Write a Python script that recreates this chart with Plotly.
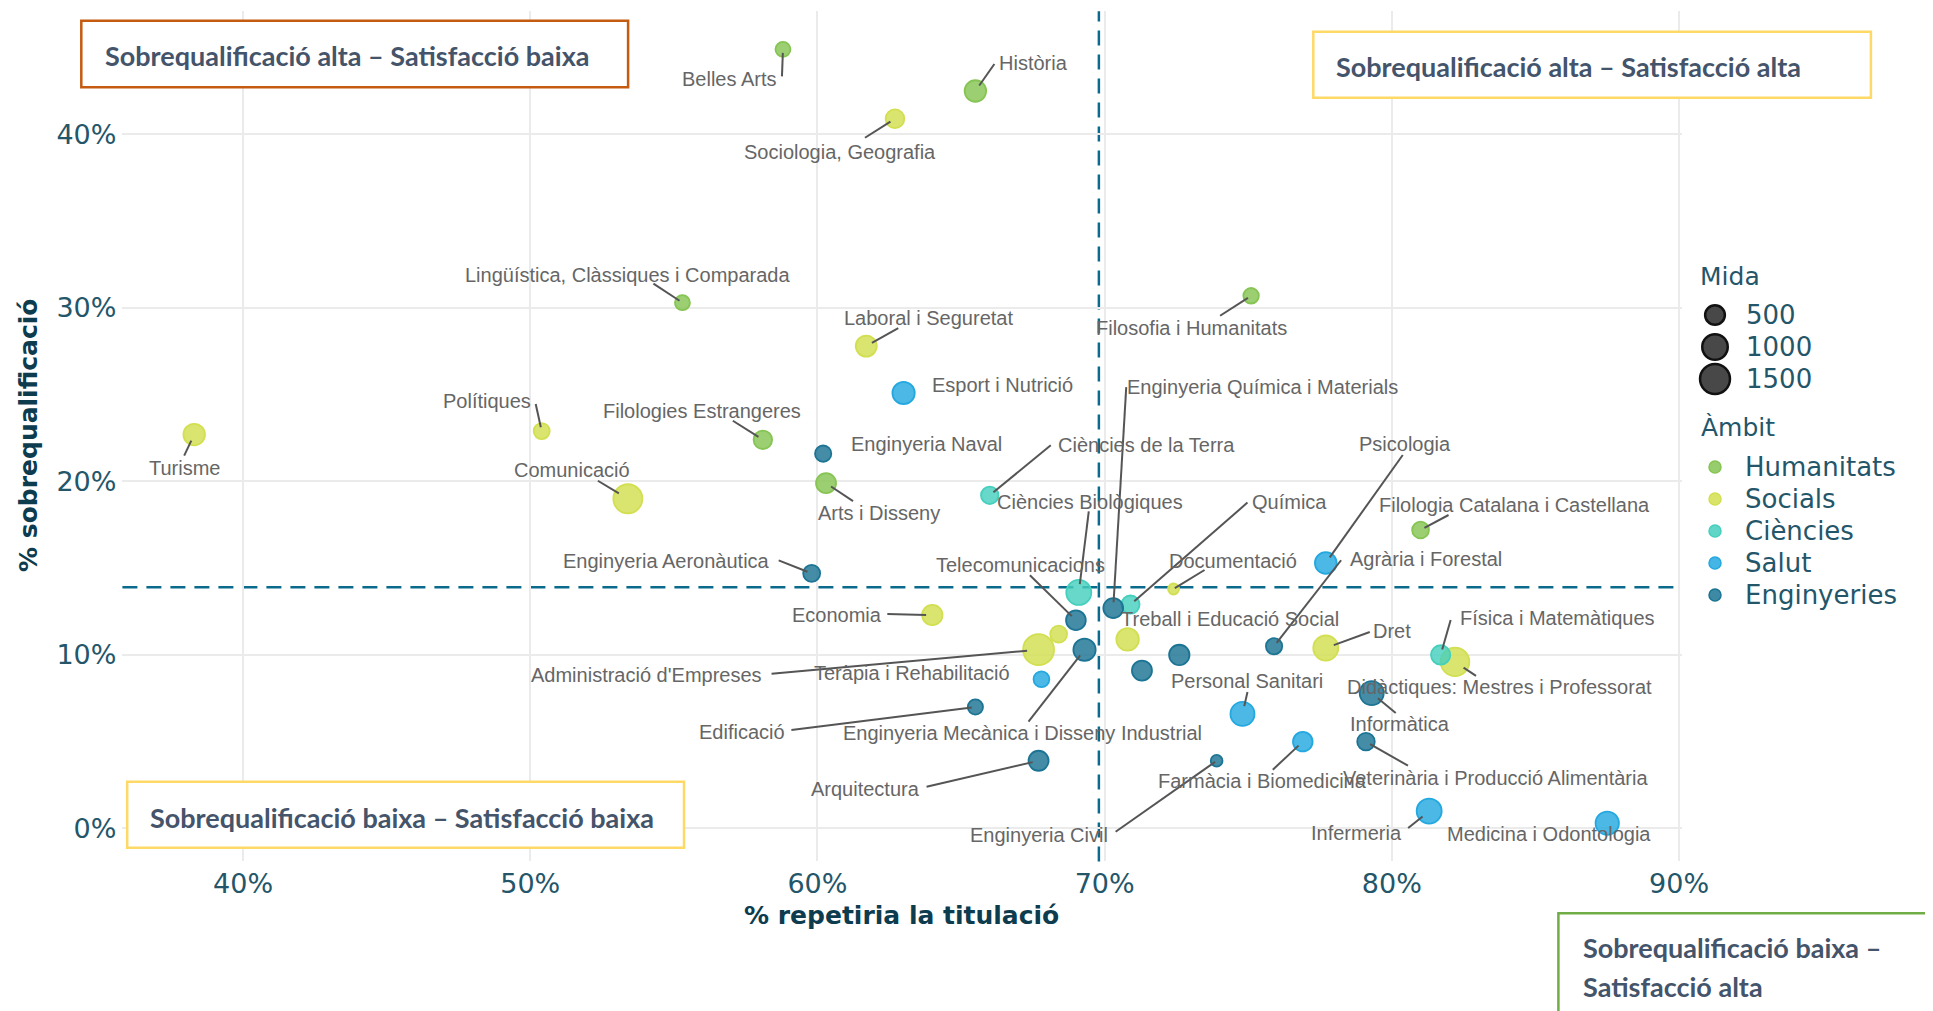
import numpy as np
import plotly.graph_objects as go

W, H = 1933, 1011
OFF = 8  # the page body margin shifts the figure by this many px

# ---- data ----
titulacio = [
    "Belles Arts", "Història", "Sociologia, Geografia", "Lingüística, Clàssiques i Comparada",
    "Filosofia i Humanitats", "Laboral i Seguretat", "Esport i Nutrició", "Filologies Estrangeres",
    "Enginyeria Naval", "Arts i Disseny", "Ciències de la Terra", "Enginyeria Aeronàutica",
    "Economia", "Ciències Biològiques", "Telecomunicacions", "Enginyeria Química i Materials",
    "Química", "Documentació", "Treball i Educació Social", "Psicologia", "Agrària i Forestal",
    "Dret", "Física i Matemàtiques", "Didàctiques: Mestres i Professorat", "Informàtica",
    "Veterinària i Producció Alimentària", "Farmàcia i Biomedicina", "Enginyeria Civil",
    "Personal Sanitari", "Infermeria", "Medicina i Odontologia", "Teràpia i Rehabilitació",
    "Administració d'Empreses", "Enginyeria Mecànica i Disseny Industrial", "Edificació",
    "Arquitectura", "Turisme", "Polítiques", "Comunicació", "Filologia Catalana i Castellana",
    "", "", "",
]
ambit = [
    "Humanitats", "Humanitats", "Socials", "Humanitats",
    "Humanitats", "Socials", "Salut", "Humanitats",
    "Enginyeries", "Humanitats", "Ciències", "Enginyeries",
    "Socials", "Ciències", "Enginyeries", "Enginyeries",
    "Ciències", "Socials", "Socials", "Salut", "Enginyeries",
    "Socials", "Ciències", "Socials", "Enginyeries",
    "Enginyeries", "Salut", "Enginyeries",
    "Salut", "Salut", "Salut", "Salut",
    "Socials", "Enginyeries", "Enginyeries",
    "Enginyeries", "Socials", "Socials", "Socials", "Humanitats",
    "Enginyeries", "Enginyeries", "Socials",
]
repetiria = [
    58.8, 65.5, 62.7, 55.3,
    75.1, 61.7, 63.0, 58.1,
    60.2, 60.3, 66.0, 59.8,
    64.0, 69.1, 69.0, 70.3,
    70.9, 72.4, 70.8, 77.7, 75.9,
    77.7, 81.7, 82.2, 79.3,
    79.1, 76.9, 73.9,
    74.8, 81.3, 87.5, 67.8,
    67.7, 69.3, 65.5,
    67.7, 38.3, 50.4, 53.4, 81.0,
    72.6, 71.3, 68.4,
]
sobrequalificacio = [
    44.9, 42.5, 40.9, 30.3,
    30.7, 27.8, 25.1, 22.4,
    21.6, 19.9, 19.2, 14.7,
    12.3, 13.6, 12.0, 12.7,
    12.9, 13.8, 10.9, 15.3, 10.5,
    10.4, 10.0, 9.6, 7.8,
    5.0, 5.0, 3.9,
    6.6, 1.0, 0.3, 8.6,
    10.3, 10.3, 7.0,
    3.9, 22.7, 22.9, 19.0, 17.2,
    10.0, 9.1, 11.2,
]
mida = [
    220, 635, 430, 220,
    245, 595, 700, 415,
    285, 520, 355, 325,
    550, 950, 500, 505,
    395, 75, 720, 650, 285,
    950, 470, 1340, 855,
    355, 490, 95,
    855, 950, 790, 260,
    1635, 700, 230,
    520, 635, 270, 1385, 315,
    545, 520, 315,
]

ambits = ["Humanitats", "Socials", "Ciències", "Salut", "Enginyeries"]
mida_llegenda = [500, 1000, 1500]
mitjana_repetiria = 69.8
mitjana_sobreq = 13.9
x_ticks = [40, 50, 60, 70, 80, 90]
y_ticks = [0, 10, 20, 30, 40]

quadrants = [
    "Sobrequalificació alta – Satisfacció baixa",
    "Sobrequalificació alta – Satisfacció alta",
    "Sobrequalificació baixa – Satisfacció baixa",
    "Sobrequalificació baixa –",
    "Satisfacció alta",
]

# ---- style ----
colors = {
    "Humanitats": "#86c453",
    "Socials": "#d2df50",
    "Ciències": "#45cfbd",
    "Salut": "#24a8e0",
    "Enginyeries": "#1c7494",
}
TEAL = "#24566a"
TITLE = "#0d3c4f"
LABEL_FONT = "Liberation Sans, Arial, sans-serif"
AXIS_FONT = "DejaVu Sans, sans-serif"
BOX_FONT = "Lato, Open Sans, sans-serif"

# label placement: text centre offset and segment start offset (px, y down) from the point
etiquetes = {
    "Belles Arts": (-54, 30, -1, 27),
    "Història": (58, -28, 19, -27),
    "Sociologia, Geografia": (-55, 33, -30, 19),
    "Lingüística, Clàssiques i Comparada": (-55, -28, -29, -19),
    "Filosofia i Humanitats": (-60, 32, -31, 20),
    "Laboral i Seguretat": (62, -28, 32, -18),
    "Esport i Nutrició": (99, -8),
    "Filologies Estrangeres": (-61, -29, -30, -19),
    "Enginyeria Naval": (103, -10),
    "Arts i Disseny": (53, 30, 27, 18),
    "Ciències de la Terra": (157, -50, 61, -50),
    "Enginyeria Aeronàutica": (-145, -12, -33, -13),
    "Economia": (-95, 0, -45, -1),
    "Ciències Biològiques": (11, -90, 10, -81),
    "Telecomunicacions": (-55, -55, -46, -45),
    "Enginyeria Química i Materials": (149, -221, 13, -221),
    "Química": (159, -103, 117, -102),
    "Documentació": (59, -28, 31, -19),
    "Treball i Educació Social": (102, -20),
    "Psicologia": (79, -119, 77, -108),
    "Agrària i Forestal": (152, -87, 67, -86),
    "Dret": (66, -17, 44, -16),
    "Física i Matemàtiques": (117, -37, 10, -35),
    "Didàctiques: Mestres i Professorat": (44, 25, 21, 14),
    "Informàtica": (28, 31, 24, 20),
    "Veterinària i Producció Alimentària": (130, 36, 42, 24),
    "Farmàcia i Biomedicina": (-40, 39, -30, 28),
    "Enginyeria Civil": (-178, 74, -101, 71),
    "Personal Sanitari": (5, -33, 5, -22),
    "Infermeria": (-73, 22, -21, 17),
    "Medicina i Odontologia": (-58, 11),
    "Teràpia i Rehabilitació": (-129, -6),
    "Administració d'Empreses": (-392, 25, -267, 24),
    "Enginyeria Mecànica i Disseny Industrial": (-62, 83, -56, 72),
    "Edificació": (-233, 25, -184, 23),
    "Arquitectura": (-173, 28, -112, 26),
    "Turisme": (-10, 33, -10, 21),
    "Polítiques": (-55, -30, -6, -27),
    "Comunicació": (-56, -29, -30, -18),
    "Filologia Catalana i Castellana": (94, -25, 28, -15),
}


def diam(n):
    # point diameter in px from the size variable
    return 6 + 0.62 * np.sqrt(np.maximum(np.asarray(n, dtype=float) - 10, 0))


def rgba(hexc, a):
    h = hexc.lstrip("#")
    return f"rgba({int(h[0:2], 16)},{int(h[2:4], 16)},{int(h[4:6], 16)},{a})"


def px(xp, yp):
    # screen px -> paper fraction
    return (xp - OFF) / W, 1 - (yp - OFF) / H


# plot area in screen px
X0, X1 = 122.4, 1681.9
Y0, Y1 = 11.2, 861.4

fig = go.Figure()

for a in ambits:
    idx = [i for i, v in enumerate(ambit) if v == a]
    fig.add_trace(go.Scatter(
        x=[repetiria[i] for i in idx],
        y=[sobrequalificacio[i] for i in idx],
        text=[titulacio[i] for i in idx],
        mode="markers",
        marker=dict(size=diam([mida[i] for i in idx]), color=rgba(colors[a], 0.82), opacity=1,
                    line=dict(color=colors[a], width=1.8)),
        hovertemplate="%{text}<br>%{x:.1f}% / %{y:.1f}%<extra></extra>",
        showlegend=False, cliponaxis=False,
    ))

# mean lines
fig.add_shape(type="line", xref="x", yref="paper", x0=mitjana_repetiria, x1=mitjana_repetiria,
              y0=px(0, Y1)[1], y1=px(0, Y0)[1], line=dict(color="#0b6b8c", width=2.5, dash="15px,9px"),
              layer="below")
fig.add_shape(type="line", xref="paper", yref="y", x0=px(X0, 0)[0], x1=px(X1, 0)[0],
              y0=mitjana_sobreq, y1=mitjana_sobreq,
              line=dict(color="#0b6b8c", width=2.5, dash="15px,9px"), layer="below")

# repel-style labels
for i, nom in enumerate(titulacio):
    if nom not in etiquetes:
        continue
    pos = etiquetes[nom]
    tdx, tdy = pos[0], pos[1]
    fig.add_annotation(x=repetiria[i], y=sobrequalificacio[i], xref="x", yref="y", text=nom,
                       showarrow=False, xshift=tdx, yshift=-tdy, xanchor="center", yanchor="middle",
                       font=dict(family=LABEL_FONT, size=20, color="#666666"))
    if len(pos) == 4:
        sdx, sdy = pos[2], pos[3]
        L = np.hypot(sdx, sdy)
        r = max(float(diam(mida[i])) / 2 - 4, 1)
        ex, ey = sdx * r / L, sdy * r / L
        fig.add_shape(type="line", xref="x", yref="y", xsizemode="pixel", ysizemode="pixel",
                      xanchor=repetiria[i], yanchor=sobrequalificacio[i],
                      x0=sdx, x1=ex, y0=-sdy, y1=-ey,
                      line=dict(color="#555555", width=2), layer="above")

# quadrant boxes
boxes = [
    ((81.3, 20.7, 628.1, 87.3), "#c55a11"),
    ((1313.3, 31.7, 1870.9, 97.7), "#ffd966"),
    ((127.2, 781.7, 684.0, 847.7), "#ffd966"),
    ((1558.4, 913.3, 1950.0, 1030.0), "#70ad47"),
]
for (bx0, by0, bx1, by1), col in boxes:
    ax0, ay0 = px(bx0, by0)
    ax1, ay1 = px(bx1, by1)
    fig.add_shape(type="rect", xref="paper", yref="paper", x0=ax0, x1=ax1, y0=ay1, y1=ay0,
                  fillcolor="white", line=dict(color=col, width=2.5), layer="above")
box_text_pos = [(102.7, 55.5), (1334.3, 66), (148.2, 817), (1580.6, 947), (1580.6, 986)]
for txt, (tx, ty) in zip(quadrants, box_text_pos):
    ax_, ay_ = px(tx, ty)
    fig.add_annotation(x=ax_, y=ay_, xref="paper", yref="paper", text=txt, showarrow=False,
                       xanchor="left", yanchor="middle",
                       font=dict(family=BOX_FONT, size=27, color="#44546a", weight="bold"))

# axis titles
fig.add_annotation(x=px(901, 0)[0], y=px(0, 915)[1], xref="paper", yref="paper",
                   xanchor="center", yanchor="middle",
                   text="% repetiria la titulació", showarrow=False,
                   font=dict(family=AXIS_FONT, size=25, color=TITLE, weight="bold"))
fig.add_annotation(x=px(28, 0)[0], y=px(0, 436)[1], xref="paper", yref="paper",
                   xanchor="center", yanchor="middle",
                   text="% sobrequalificació", showarrow=False, textangle=-90,
                   font=dict(family=AXIS_FONT, size=25, color=TITLE, weight="bold"))

# ---- legends (drawn on a screen-pixel overlay axis) ----
LX, LTX = 1715, 1744
fig.add_trace(go.Scatter(
    x=[LX] * len(mida_llegenda), y=[315 + 32 * k for k in range(len(mida_llegenda))],
    mode="markers", xaxis="x2", yaxis="y2", cliponaxis=False, hoverinfo="skip", showlegend=False,
    marker=dict(size=diam(mida_llegenda), color="#484848", opacity=1,
                line=dict(color="#111111", width=2.5)),
))
fig.add_trace(go.Scatter(
    x=[LX] * len(ambits), y=[467 + 32 * k for k in range(len(ambits))],
    mode="markers", xaxis="x2", yaxis="y2", cliponaxis=False, hoverinfo="skip", showlegend=False,
    marker=dict(size=12, color=[rgba(colors[a], 0.85) for a in ambits], opacity=1,
                line=dict(color=[colors[a] for a in ambits], width=1.5)),
))
fig.add_annotation(x=1698, y=276, xref="x2", yref="y2", text="Mida", showarrow=False,
                   xanchor="left", yanchor="middle", font=dict(family=AXIS_FONT, size=25, color=TEAL))
fig.add_annotation(x=1699, y=427, xref="x2", yref="y2", text="Àmbit", showarrow=False,
                   xanchor="left", yanchor="middle", font=dict(family=AXIS_FONT, size=25, color=TEAL))
for k, m in enumerate(mida_llegenda):
    fig.add_annotation(x=LTX, y=315 + 32 * k, xref="x2", yref="y2", text=str(m), showarrow=False,
                       xanchor="left", yanchor="middle", font=dict(family=AXIS_FONT, size=26, color=TEAL))
for k, a in enumerate(ambits):
    fig.add_annotation(x=LTX - 1, y=467 + 32 * k, xref="x2", yref="y2", text=a, showarrow=False,
                       xanchor="left", yanchor="middle", font=dict(family=AXIS_FONT, size=26, color=TEAL))

fig.update_layout(
    width=W, height=H, template="none",
    margin=dict(l=0, r=0, t=0, b=0),
    paper_bgcolor="white", plot_bgcolor="rgba(0,0,0,0)",
    showlegend=False,
    xaxis=dict(domain=[px(X0, 0)[0], px(X1, 0)[0]], range=[35.8, 90.1],
               tickvals=x_ticks, ticktext=[f"{v}%" for v in x_ticks],
               showgrid=True, gridcolor="#ebebeb", gridwidth=1.5, zeroline=False, showline=False,
               ticks="", ticklabelstandoff=4,
               tickfont=dict(family=AXIS_FONT, size=27, color=TEAL)),
    yaxis=dict(domain=[px(0, Y1)[1], px(0, Y0)[1]], range=[-1.9, 47.1],
               tickvals=y_ticks, ticktext=[f"{v}%" for v in y_ticks],
               showgrid=True, gridcolor="#ebebeb", gridwidth=1.5, zeroline=False, showline=False,
               ticks="", ticklabelstandoff=5,
               tickfont=dict(family=AXIS_FONT, size=27, color=TEAL)),
    xaxis2=dict(domain=[0, 1], range=[OFF, W + OFF], visible=False, anchor="y2", fixedrange=True),
    yaxis2=dict(domain=[0, 1], range=[H + OFF, OFF], visible=False, anchor="x2", fixedrange=True),
)

fig.write_html("out.html")
